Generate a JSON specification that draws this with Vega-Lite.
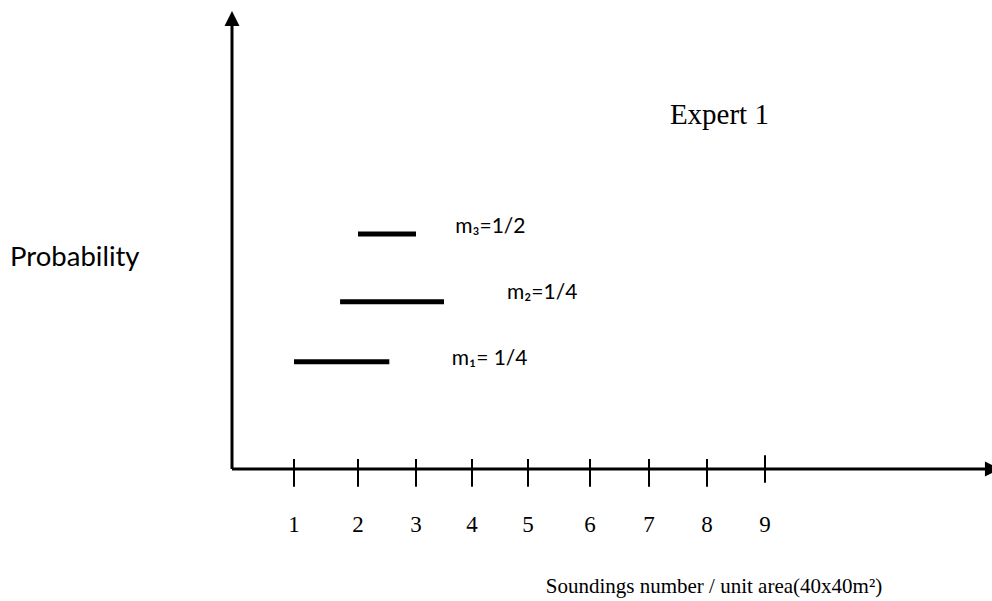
{
  "$schema": "https://vega.github.io/schema/vega-lite/v6.json",
  "width": 992,
  "height": 601,
  "padding": 0,
  "autosize": {"type": "none"},
  "background": "white",
  "config": {"view": {"stroke": null}},
  "encoding": {
    "x": {"field": "x", "type": "quantitative", "axis": null,
      "scale": {"domain": [0, 1, 2, 3, 4, 5, 6, 7, 8, 9, 13], "range": [232, 294, 358, 416, 472, 528, 590, 649, 707, 765, 992], "nice": false, "zero": false}},
    "y": {"field": "y", "type": "quantitative", "axis": null,
      "scale": {"domain": [0, 10], "range": [469, 11], "nice": false, "zero": false}}
  },
  "layer": [
    {
      "data": {"values": [
        {"x": 0, "y": 0, "x2": 0, "y2": 9.75},
        {"x": 0, "y": 0, "x2": 13, "y2": 0}
      ]},
      "mark": {"type": "rule", "color": "black", "strokeWidth": 3},
      "encoding": {"x2": {"field": "x2"}, "y2": {"field": "y2"}}
    },
    {
      "data": {"values": [
        {"x": 1, "y": -0.39, "y2": 0.22},
        {"x": 2, "y": -0.39, "y2": 0.22},
        {"x": 3, "y": -0.39, "y2": 0.22},
        {"x": 4, "y": -0.39, "y2": 0.22},
        {"x": 5, "y": -0.39, "y2": 0.22},
        {"x": 6, "y": -0.39, "y2": 0.22},
        {"x": 7, "y": -0.39, "y2": 0.22},
        {"x": 8, "y": -0.39, "y2": 0.22},
        {"x": 9, "y": -0.3, "y2": 0.3}
      ]},
      "mark": {"type": "rule", "color": "black", "strokeWidth": 2},
      "encoding": {"y2": {"field": "y2"}}
    },
    {
      "data": {"values": [{"x": 0, "y": 10}]},
      "mark": {"type": "point", "shape": "M0,0L-1,2L1,2Z", "size": 225, "filled": true, "color": "black", "opacity": 1}
    },
    {
      "data": {"values": [{"x": 13.14, "y": 0}]},
      "mark": {"type": "point", "shape": "M0,0L-2,-1L-2,1Z", "size": 225, "filled": true, "color": "black", "opacity": 1}
    },
    {
      "data": {"values": [
        {"x": 1, "x2": 2.54, "y": 2.34},
        {"x": 1.72, "x2": 3.5, "y": 3.65},
        {"x": 2, "x2": 3, "y": 5.13}
      ]},
      "mark": {"type": "rule", "color": "black", "strokeWidth": 5, "strokeCap": "butt"},
      "encoding": {"x2": {"field": "x2"}}
    },
    {
      "data": {"values": [
        {"x": 1, "y": -1.375, "label": "1"},
        {"x": 2, "y": -1.375, "label": "2"},
        {"x": 3, "y": -1.375, "label": "3"},
        {"x": 4, "y": -1.375, "label": "4"},
        {"x": 5, "y": -1.375, "label": "5"},
        {"x": 6, "y": -1.375, "label": "6"},
        {"x": 7, "y": -1.375, "label": "7"},
        {"x": 8, "y": -1.375, "label": "8"},
        {"x": 9, "y": -1.375, "label": "9"}
      ]},
      "mark": {"type": "text", "font": "Liberation Serif", "fontSize": 23, "color": "black", "align": "center", "baseline": "alphabetic"},
      "encoding": {"text": {"field": "label"}}
    },
    {
      "data": {"values": [
        {"x": 8.12, "y": -2.71, "label": "Soundings number / unit area(40x40m²)"}
      ]},
      "mark": {"type": "text", "font": "Liberation Serif", "fontSize": 21, "color": "black", "align": "center", "baseline": "alphabetic"},
      "encoding": {"text": {"field": "label"}}
    },
    {
      "data": {"values": [
        {"x": 7.36, "y": 7.53, "label": "Expert 1"}
      ]},
      "mark": {"type": "text", "font": "Liberation Serif", "fontSize": 29, "color": "black", "align": "left", "baseline": "alphabetic"},
      "encoding": {"text": {"field": "label"}}
    },
    {
      "data": {"values": [
        {"x": -3.58, "y": 4.43, "label": "Probability"}
      ]},
      "mark": {"type": "text", "font": "Lato, Noto Sans", "fontSize": 27.5, "color": "black", "align": "left", "baseline": "alphabetic"},
      "encoding": {"text": {"field": "label"}}
    },
    {
      "data": {"values": [
        {"x": 3.64, "y": 2.27, "label": "m₁= 1/4"},
        {"x": 4.625, "y": 3.71, "label": "m₂=1/4"},
        {"x": 3.7, "y": 5.15, "label": "m₃=1/2"}
      ]},
      "mark": {"type": "text", "font": "Lato, Noto Sans", "fontSize": 21, "color": "black", "align": "left", "baseline": "alphabetic"},
      "encoding": {"text": {"field": "label"}}
    }
  ]
}
